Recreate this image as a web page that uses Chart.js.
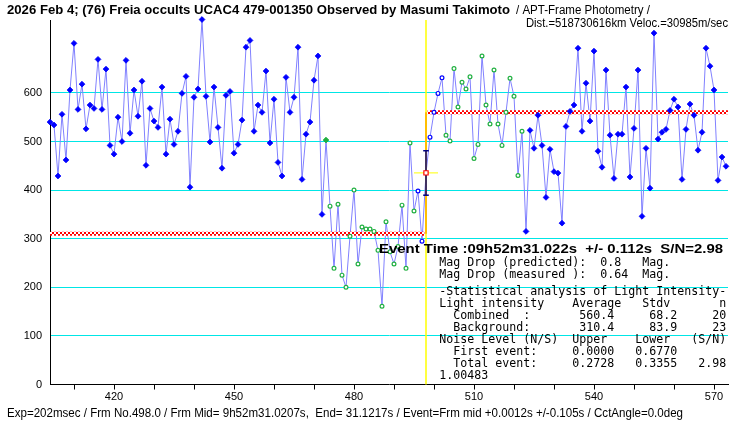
<!DOCTYPE html>
<html>
<head>
<meta charset="utf-8">
<script src="https://cdn.jsdelivr.net/npm/chart.js@4/dist/chart.umd.min.js"></script>
<style>
  html, body { margin: 0; padding: 0; background: #fff; }
  #box { width: 740px; height: 425px; position: relative; }
</style>
</head>
<body>
<div id="box"><canvas id="chart"></canvas></div>
<script>
// frame numbers start here, one value per frame
const firstFrame = 404;
const intensity = [
  540,534,429,556,462,606,702,566,618,526, 575,568,669,566,649,492,474,550,500,667,
  517,606,552,624,451,568,542,529,612,474, 546,494,521,599,634,406,591,608,751,593,
  499,612,529,445,595,603,476,494,544,694, 708,521,575,560,645,497,587,457,429,632,
  560,591,694,422,515,540,626,676,350,503, 367,239,371,225,200,305,400,248,324,320,
  320,315,276,161,335,273,248,284,369,239, 497,357,398,295,435,509,560,599,631,513,
  501,650,571,622,608,633,465,494,676,575, 536,647,536,492,560,630,593,430,521,315,
  523,486,554,492,385,484,438,435,332,531, 562,575,692,521,620,542,686,480,447,647,
  513,424,515,515,612,427,527,647,346,486, 404,723,505,519,525,564,587,571,422,525,
  577,554,482,519,692,655,606,420,468,449
];

// frame groups (marker styles)
const bgStartFrame = [473];          // filled green
const backgroundFrames = [474, 495]; // open green
const nearEventFrames = [496, 497, 499, 500, 501, 502]; // open blue
const combinedFrames = [503, 522];   // open green

const eventFrame = 498;
const backgroundLevel = 310.4;
const combinedLevel = 560.4;
const eventLevel = 435.4;
const eventErr = [389.5, 481];
const eventSpan = [495, 501];

const xTicks = [410,420,430,440,450,460,470,480,490,500,510,520,530,540,550,560,570];
const xLabels = [420,450,480,510,540,570];
const yTicks = [0,100,200,300,400,500,600];

const pts = intensity.map((v, i) => ({ x: firstFrame + i, y: v }));
const inRange = (f, r) => f >= r[0] && f <= r[1];
const blueFilled = pts.filter(p => p.x < bgStartFrame[0] || p.x > combinedFrames[1]);
const greenFilled = pts.filter(p => bgStartFrame.includes(p.x));
const greenOpen = pts.filter(p => inRange(p.x, backgroundFrames) || inRange(p.x, combinedFrames));
const blueOpen = pts.filter(p => nearEventFrames.includes(p.x));

// red / white checker for the level lines
const pc = document.createElement('canvas');
pc.width = 4; pc.height = 4;
const pctx = pc.getContext('2d');
pctx.fillStyle = '#fff'; pctx.fillRect(0, 0, 4, 4);
pctx.fillStyle = '#ff0000'; pctx.fillRect(0, 0, 2, 2); pctx.fillRect(2, 2, 2, 2);
const checker = pctx.createPattern(pc, 'repeat');

function fitText(ctx, text, x, y, width, font) {
  ctx.font = font;
  const w = ctx.measureText(text).width;
  ctx.save();
  ctx.translate(x, y);
  ctx.scale(width / w, 1);
  ctx.fillText(text, 0, 0);
  ctx.restore();
}

const statLines = [
  ["Mag Drop (predicted):  0.8   Mag.", 266],
  ["Mag Drop (measured ):  0.64  Mag.", 277.7],
  ["-Statistical analysis of Light Intensity-", 295.3],
  ["Light intensity    Average   Stdv       n", 307.3],
  ["  Combined  :       560.4     68.2     20", 319.3],
  ["  Background:       310.4     83.9     23", 331.3],
  ["Noise Level (N/S)  Upper    Lower   (S/N)", 343.3],
  ["  First event:     0.0000   0.6770", 355],
  ["  Total event:     0.2728   0.3355   2.98", 367],
  ["1.00483", 378.7]
];

const textPlugin = {
  id: 'texts',
  afterDraw(chart) {
    const ctx = chart.ctx;
    ctx.save();
    ctx.fillStyle = '#000';
    ctx.textBaseline = 'alphabetic';
    fitText(ctx, "2026 Feb 4; (76) Freia occults UCAC4 479-001350 Observed by Masumi Takimoto",
      7, 14, 503, 'bold 12px "Liberation Sans"');
    fitText(ctx, "/ APT-Frame Photometry /", 516, 14, 134, '12px "Liberation Sans"');
    fitText(ctx, "Dist.=518730616km Veloc.=30985m/sec", 526, 26.5, 202, '12px "Liberation Sans"');
    fitText(ctx, "Event Time :09h52m31.022s  +/- 0.112s  S/N=2.98", 379, 253.3, 344, 'bold 13.5px "Liberation Sans"');
    statLines.forEach(([t, y]) => {
      fitText(ctx, t, 439.3, y, t.length * 7, '12px "DejaVu Sans Mono"');
    });
    fitText(ctx, "Exp=202msec / Frm No.498.0 / Frm Mid= 9h52m31.0207s,  End= 31.1217s / Event=Frm mid +0.0012s +/-0.105s / CctAngle=0.0deg",
      7, 416.5, 676, '12px "Liberation Sans"');
    ctx.restore();
  }
};

new Chart(document.getElementById('chart'), {
  type: 'scatter',
  data: {
    datasets: [
      { // event marker
        data: [{ x: eventFrame, y: eventLevel }],
        pointStyle: 'rect', pointRadius: 3, borderColor: '#ff0000', backgroundColor: '#fff',
        pointBorderWidth: 1.2, showLine: false, order: 0
      },
      {
        data: blueFilled, pointStyle: 'rectRot', pointRadius: 2.9,
        backgroundColor: '#0000ff', borderColor: '#0000ff', pointBorderWidth: 0.8, showLine: false, order: 1
      },
      {
        data: greenFilled, pointStyle: 'rectRot', pointRadius: 2.9,
        backgroundColor: '#20b040', borderColor: '#20b040', pointBorderWidth: 0.8, showLine: false, order: 1
      },
      {
        data: greenOpen, pointStyle: 'circle', pointRadius: 1.9,
        backgroundColor: '#fff', borderColor: '#20b040', pointBorderWidth: 1.2, showLine: false, order: 1
      },
      {
        data: blueOpen, pointStyle: 'circle', pointRadius: 1.9,
        backgroundColor: '#fff', borderColor: '#0000ff', pointBorderWidth: 1.2, showLine: false, order: 1
      },
      { // error bar
        data: [{ x: eventFrame, y: eventErr[0] }, { x: eventFrame, y: eventErr[1] }],
        showLine: true, borderColor: '#000080', borderWidth: 1.5, pointRadius: 0, order: 2
      },
      {
        data: [{ x: eventFrame - 0.7, y: eventErr[0] }, { x: eventFrame + 0.7, y: eventErr[0] }],
        showLine: true, borderColor: '#000080', borderWidth: 1.5, pointRadius: 0, order: 2
      },
      {
        data: [{ x: eventFrame - 0.7, y: eventErr[1] }, { x: eventFrame + 0.7, y: eventErr[1] }],
        showLine: true, borderColor: '#000080', borderWidth: 1.5, pointRadius: 0, order: 2
      },
      { // yellow crosshair
        data: [{ x: eventSpan[0], y: eventLevel }, { x: eventSpan[1], y: eventLevel }],
        showLine: true, borderColor: '#ffff00', borderWidth: 1, pointRadius: 0, order: 3
      },
      { // event time line
        data: [{ x: eventFrame, y: 0 }, { x: eventFrame, y: 750 }],
        showLine: true, borderColor: '#ffff00', borderWidth: 1.5, pointRadius: 0, order: 3
      },
      { // step
        data: [{ x: eventFrame, y: backgroundLevel }, { x: eventFrame, y: combinedLevel }],
        showLine: true, borderColor: '#ff0000', borderWidth: 2, pointRadius: 0, order: 4
      },
      {
        data: [{ x: firstFrame, y: backgroundLevel }, { x: eventFrame - 0.4, y: backgroundLevel }],
        showLine: true, borderColor: checker, borderWidth: 4, pointRadius: 0, order: 4
      },
      {
        data: [{ x: eventFrame + 0.4, y: combinedLevel }, { x: 573.5, y: combinedLevel }],
        showLine: true, borderColor: checker, borderWidth: 4, pointRadius: 0, order: 4
      },
      { // light curve
        data: pts, showLine: true, borderColor: '#8080ff', borderWidth: 1, pointRadius: 0, order: 10
      }
    ]
  },
  options: {
    responsive: true,
    maintainAspectRatio: false,
    animation: false,
    events: [],
    layout: { padding: { top: 20, right: 12, left: 0, bottom: 0 } },
    plugins: { legend: { display: false }, tooltip: { enabled: false } },
    elements: { line: { tension: 0 } },
    clip: false,
    scales: {
      x: {
        type: 'linear', min: firstFrame, max: 573.5,
        afterBuildTicks: s => { s.ticks = xTicks.map(v => ({ value: v })); },
        afterFit: s => { s.height = 40.5; },
        ticks: {
          autoSkip: false, maxRotation: 0, padding: 1, color: '#000',
          font: { family: '"Liberation Sans Narrow", "Liberation Sans"', size: 11 },
          callback: v => xLabels.includes(v) ? String(v) : ''
        },
        grid: { drawOnChartArea: false, drawTicks: true, tickLength: 5, color: '#000' },
        border: { display: true, color: '#000', width: 1 }
      },
      y: {
        min: 0, max: 750,
        afterBuildTicks: s => { s.ticks = yTicks.map(v => ({ value: v })); },
        afterFit: s => { s.width = 50; },
        ticks: {
          padding: 8, color: '#000',
          font: { family: '"Liberation Sans Narrow", "Liberation Sans"', size: 11 }
        },
        grid: {
          drawTicks: false,
          color: c => c.tick && c.tick.value === 0 ? 'rgba(0,0,0,0)' : '#00e6e6'
        },
        border: { display: true, color: '#000', width: 1 }
      }
    }
  },
  plugins: [textPlugin]
});
</script>
</body>
</html>
